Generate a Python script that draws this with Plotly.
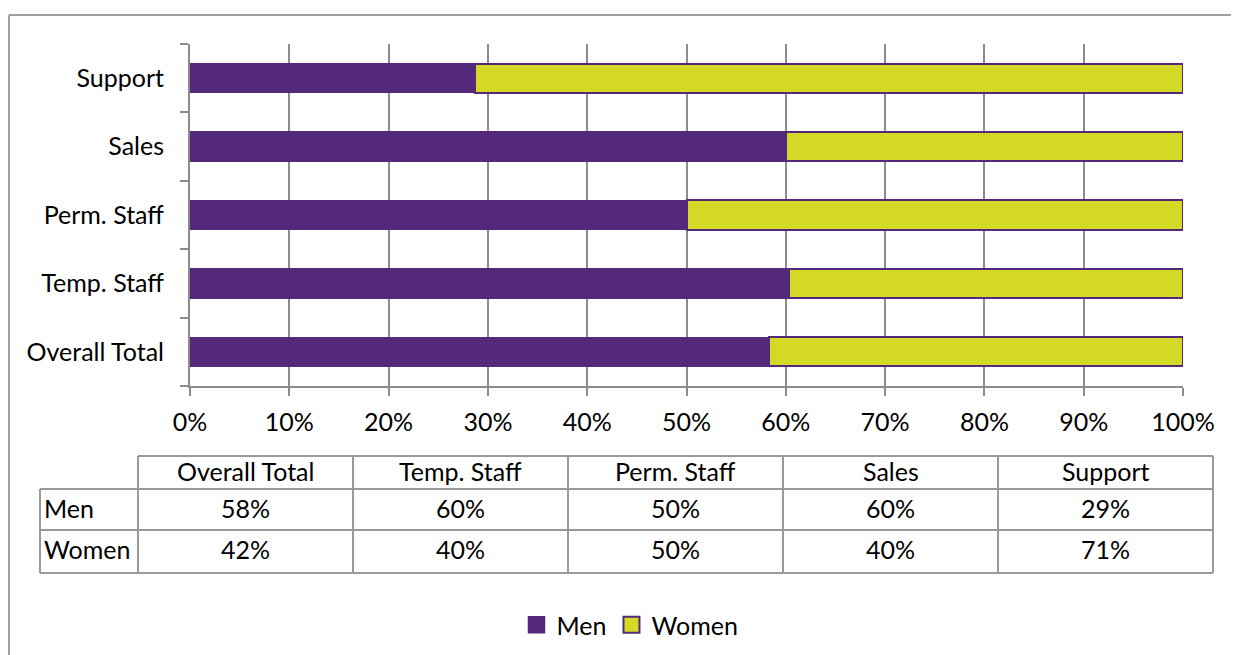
import plotly.graph_objects as go

categories = ["Overall Total", "Temp. Staff", "Perm. Staff", "Sales", "Support"]
men = [58.3, 60.3, 50.0, 60.0, 28.7]
women = [41.7, 39.7, 50.0, 40.0, 71.3]
x_ticks = [0, 10, 20, 30, 40, 50, 60, 70, 80, 90, 100]
x_tick_labels = [f"{t}%" for t in x_ticks]

PURPLE = "#54287A"
YELLOW = "#D4D925"
GRID = "#8C8C8C"
FONT = "Lato"
FS = 25

# page offset of the figure inside the browser (body margin)
OFF = 8
# plot area in screen pixels: x 190..1183, y 44..386
SL, SR, ST, SB = 190, 1183, 44, 386
L, R, T, B = SL - OFF, SR - OFF, ST - OFF, SB - OFF
W, H = 1239, 655

def px(x):
    return (x - SL) / (SR - SL)
def py(y):
    return (SB - y) / (SB - ST)

fig = go.Figure()
fig.add_trace(go.Bar(y=categories, x=men, name="Men", orientation="h", showlegend=False,
                     marker=dict(color=PURPLE, line=dict(color=PURPLE, width=1.5))))
fig.add_trace(go.Bar(y=categories, x=women, name="Women", orientation="h", showlegend=False,
                     marker=dict(color=YELLOW, line=dict(color=PURPLE, width=2))))
# legend entries
fig.add_trace(go.Scatter(x=[None], y=[None], mode="markers", name="Men",
                         marker=dict(symbol="square", size=16, color=PURPLE,
                                     line=dict(color=PURPLE, width=1.5))))
fig.add_trace(go.Scatter(x=[None], y=[None], mode="markers", name="Women",
                         marker=dict(symbol="square", size=16, color=YELLOW,
                                     line=dict(color=PURPLE, width=2))))

shapes = []
def line(x0, y0, x1, y1, color="#999999", width=2):
    shapes.append(dict(type="line", xref="paper", yref="paper",
                       x0=px(x0), y0=py(y0), x1=px(x1), y1=py(y1),
                       line=dict(color=color, width=width)))

# outer chart border
line(9, 15, 1260, 15, "#A0A0A0", 2)
line(9, 15, 9, 680, "#A0A0A0", 2)

# data table
col_x = [138, 353, 568, 783, 998, 1213]
line(138, 456, 1213, 456)
for yy in (489, 530, 573):
    line(40, yy, 1213, yy)
line(40, 489, 40, 573)
for xx in col_x:
    line(xx, 456, xx, 573)

annotations = []
def text(x, y, s, xanchor="center"):
    annotations.append(dict(xref="paper", yref="paper", x=px(x), y=py(y), text=s,
                            showarrow=False, xanchor=xanchor, yanchor="middle",
                            font=dict(family=FONT, size=FS, color="black")))

for i, c in enumerate(categories):
    cx = (col_x[i] + col_x[i + 1]) / 2
    text(cx, 471, c)
    text(cx, 508, f"{round(men[i])}%")
    text(cx, 549, f"{round(women[i])}%")
text(42, 508, "Men", "left")
text(42, 549, "Women", "left")

fig.update_layout(
    width=W, height=H,
    barmode="stack", bargap=0.575,
    plot_bgcolor="white", paper_bgcolor="white",
    margin=dict(l=L, r=W - R, t=T, b=H - B, autoexpand=False),
    font=dict(family=FONT, size=FS, color="black"),
    shapes=shapes, annotations=annotations,
    showlegend=True,
    legend=dict(orientation="h", x=px(630), y=py(625), xanchor="center", yanchor="middle",
                font=dict(family=FONT, size=FS), itemsizing="trace", traceorder="normal",
                itemwidth=30),
)
fig.update_xaxes(range=[0, 100], tickvals=x_ticks, ticktext=x_tick_labels,
                 showgrid=True, gridcolor=GRID, gridwidth=2,
                 showline=True, linecolor=GRID, linewidth=2,
                 ticks="outside", ticklen=8, tickcolor=GRID, tickwidth=2,
                 zeroline=False, fixedrange=True, ticklabelstandoff=5)
fig.update_yaxes(showgrid=False, showline=True, linecolor=GRID, linewidth=2,
                 ticks="outside", tickson="boundaries", ticklen=8, tickcolor=GRID, tickwidth=2,
                 ticklabelstandoff=19, fixedrange=True)

fig.write_html("out.html")
